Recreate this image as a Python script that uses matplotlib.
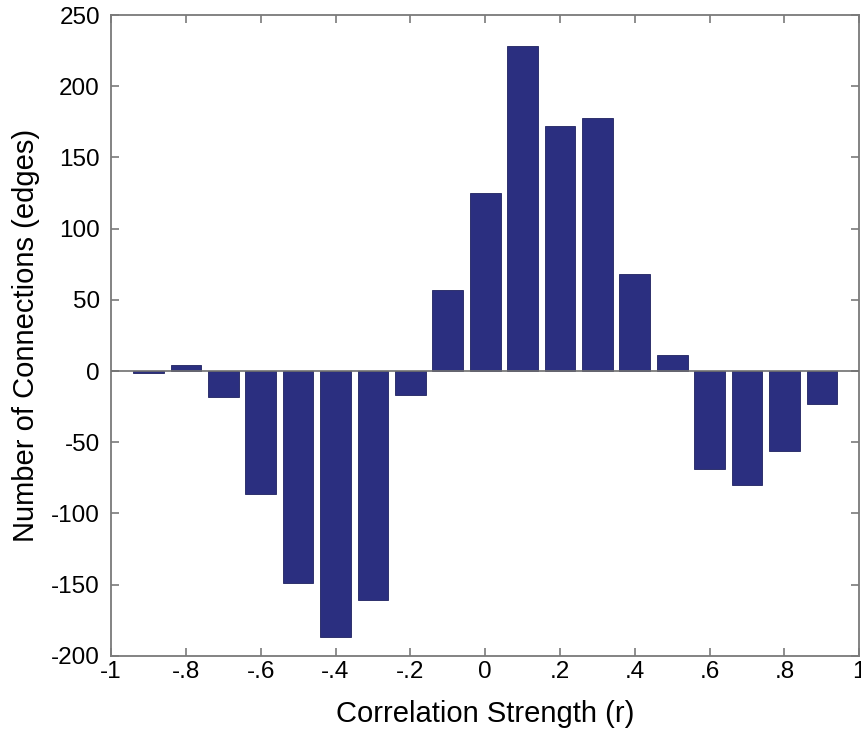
import numpy as np
import matplotlib.pyplot as plt

plt.rcParams['font.family'] = ['Liberation Sans', 'DejaVu Sans']
plt.rcParams['axes.unicode_minus'] = False

# Bin centres and counts
r_centres = [-0.9, -0.8, -0.7, -0.6, -0.5, -0.4, -0.3, -0.2, -0.1, 0.0,
             0.1, 0.2, 0.3, 0.4, 0.5, 0.6, 0.7, 0.8, 0.9]
n_edges = [-1.5, 4, -18, -86, -149, -187, -161, -17, 57, 125,
           228, 172, 178, 68, 11, -69, -80, -56, -23]

x_ticks = [-1, -0.8, -0.6, -0.4, -0.2, 0, 0.2, 0.4, 0.6, 0.8, 1]
x_labels = ['-1', '-.8', '-.6', '-.4', '-.2', '0', '.2', '.4', '.6', '.8', '1']
y_ticks = [-200, -150, -100, -50, 0, 50, 100, 150, 200, 250]

fig = plt.figure(figsize=(8.61, 7.32), dpi=100)
ax = fig.add_axes([0.129, 0.104, 0.869, 0.8755])

ax.bar(r_centres, n_edges, width=0.082, color='#2b2f80',
       edgecolor='#1e2160', linewidth=0.6, zorder=2)
ax.axhline(0, color='#707070', linewidth=1.2, zorder=3)

ax.set_xlim(-1, 1)
ax.set_ylim(-200, 250)
ax.set_xticks(x_ticks)
ax.set_xticklabels(x_labels)
ax.set_yticks(y_ticks)

grey = '#7a7a7a'
for s in ax.spines.values():
    s.set_color(grey)
    s.set_linewidth(1.3)
ax.tick_params(direction='in', length=6, width=1.2, color=grey,
               labelsize=17.5, top=True, right=True)
ax.tick_params(axis='y', pad=8)
ax.tick_params(axis='x', pad=4)

ax.set_xlabel('Correlation Strength (r)', fontsize=21, labelpad=12)
ax.set_ylabel('Number of Connections (edges)', fontsize=21, labelpad=8)

fig.savefig('out.png', dpi=100)
